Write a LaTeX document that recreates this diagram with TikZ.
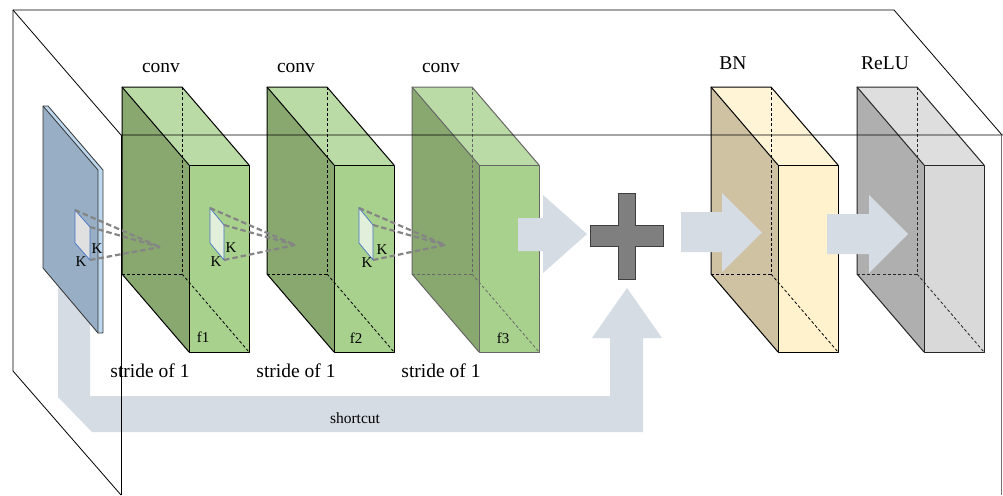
\documentclass[tikz,border=0pt]{standalone}
\usepackage{fontspec}
\setmainfont{Liberation Serif}
\definecolor{gLeft}{HTML}{88A870}
\definecolor{gTop}{HTML}{BBDBA6}
\definecolor{gFront}{HTML}{A9D18E}
\definecolor{bnLeft}{HTML}{CFC2A3}
\definecolor{bnTop}{HTML}{FFF4D6}
\definecolor{bnFront}{HTML}{FFF2CC}
\definecolor{reLeft}{HTML}{AFAFAF}
\definecolor{reTop}{HTML}{DEDEDE}
\definecolor{reFront}{HTML}{D9D9D9}
\definecolor{flow}{HTML}{D6DCE4}
\definecolor{inLeft}{HTML}{97AEC4}
\definecolor{inSide}{HTML}{BDD7EE}
\definecolor{patchBlue}{HTML}{4472C4}
\definecolor{patchGreen}{HTML}{E2EFDA}
\definecolor{plusFill}{HTML}{7F7F7F}
\definecolor{plusEdge}{HTML}{3F3F3F}
\definecolor{kern}{HTML}{858585}
\tikzset{
  boxedge/.style={line width=1pt, line join=round},
  hiddenedge/.style={line width=0.8pt, dash pattern=on 3pt off 2.2pt},
  frameline/.style={line width=0.8pt, draw=black},
  kernline/.style={draw=kern, line width=2.2pt, dash pattern=on 5.5pt off 3pt},
  patch/.style={draw=patchBlue, line width=0.7pt},
  lbl/.style={font=\fontsize{19.5}{23}\selectfont, inner sep=0pt, anchor=base},
  small/.style={font=\fontsize{15}{17}\selectfont, inner sep=0pt},
  flowarrow/.style={fill=flow, draw=none}
}
% one feature-map block: x offset, left face, top face, front face, edge colour
\newcommand{\featbox}[5]{%
  \begin{scope}[shift={(#1,0)}]
    \fill[#2] (0,87) -- (67,165) -- (67,352) -- (0,274) -- cycle;
    \fill[#3] (0,87) -- (60,87) -- (127,165) -- (67,165) -- cycle;
    \fill[#4] (67,165) rectangle (127,352);
    \draw[hiddenedge,draw=#5] (60,87) -- (60,274) -- (0,274);
    \draw[hiddenedge,draw=#5] (60,274) -- (127,352);
    \draw[boxedge,draw=#5] (0,274) -- (0,87) -- (60,87) -- (127,165);
    \draw[boxedge,draw=#5] (0,87) -- (67,165);
    \draw[boxedge,draw=#5] (67,165) rectangle (127,352);
    \draw[boxedge,draw=#5] (0,274) -- (67,352);
  \end{scope}}
\begin{document}
\begin{tikzpicture}[x=1pt,y=-1pt]
\useasboundingbox (0,0) rectangle (1003,495);
\fill[white] (0,0) rectangle (1003,495);

% shortcut path (behind the input slab)
\fill[flowarrow] (58,270) -- (58,397) -- (92,432) -- (643,432) -- (643,338)
  -- (662,338) -- (627,288) -- (592,338) -- (610,338) -- (610,396)
  -- (90,396) -- (90,270) -- cycle;
\node[font=\fontsize{15.5}{18}\selectfont, inner sep=0pt, anchor=base] (sc) at (355,423) {shortcut};

% input slab
\fill[inLeft] (43,106) -- (98,170) -- (98,333) -- (43,268) -- cycle;
\fill[inSide] (43,106) -- (48,106) -- (103,170) -- (98,170) -- cycle;
\fill[inSide] (98,170) rectangle (103,333);
\draw[line width=0.8pt, draw=black!80, line join=round]
  (43,268) -- (43,106) -- (48,106) -- (103,170) -- (103,333) -- (98,333) -- (43,268);
\draw[line width=0.8pt, draw=black!80] (43,106) -- (98,170) -- (98,333);

% convolution blocks
\featbox{122}{gLeft}{gTop}{gFront}{black}
\featbox{267}{gLeft}{gTop}{gFront}{black}
\featbox{412}{gLeft}{gTop}{gFront}{black!60}
% batch norm and activation blocks
\featbox{711}{bnLeft}{bnTop}{bnFront}{black}
\featbox{857}{reLeft}{reTop}{reFront}{black!85}

% kernel windows and receptive-field rays
\coordinate (apex1) at (160,247);
\coordinate (apex2) at (295,245);
\coordinate (apex3) at (445,245);
\fill[black!12] (75,210) -- (90,227) -- (90,260) -- (75,243) -- cycle;
\draw[patch] (75,210) -- (90,227) -- (90,260) -- (75,243) -- cycle;
\draw[kernline] (75,210) -- (apex1);
\draw[kernline] (90,227) -- (apex1);
\draw[kernline] (90,260) -- (apex1);
\fill[patchGreen] (210,208) -- (224,225) -- (224,260) -- (210,243) -- cycle;
\draw[patch] (210,208) -- (224,225) -- (224,260) -- (210,243) -- cycle;
\draw[kernline] (210,208) -- (apex2);
\draw[kernline] (224,225) -- (apex2);
\draw[kernline] (224,260) -- (apex2);
\fill[patchGreen] (359,208) -- (373,225) -- (373,260) -- (359,243) -- cycle;
\draw[patch] (359,208) -- (373,225) -- (373,260) -- (359,243) -- cycle;
\draw[kernline] (359,208) -- (apex3);
\draw[kernline] (373,225) -- (apex3);
\draw[kernline] (373,260) -- (apex3);
\node[small] (k1a) at (97,249) {K};
\node[small] (k1b) at (81,262) {K};
\node[small] (k2a) at (231,248) {K};
\node[small] (k2b) at (216,262) {K};
\node[small] (k3a) at (382,250) {K};
\node[small] (k3b) at (367,263) {K};

% block arrows
\fill[flowarrow] (518,218) -- (543,218) -- (543,195) -- (587,234) -- (543,273)
  -- (543,251) -- (518,251) -- cycle;
\fill[flowarrow] (681,212) -- (722,212) -- (722,193) -- (762,232.5) -- (722,272)
  -- (722,252) -- (681,252) -- cycle;
\fill[flowarrow] (827,214) -- (869,214) -- (869,195) -- (908,234) -- (869,273)
  -- (869,254) -- (827,254) -- cycle;

% addition
\draw[fill=plusFill, draw=plusEdge, line width=1pt]
  (618,193) -- (635,193) -- (635,225) -- (663,225) -- (663,246) -- (635,246)
  -- (635,279) -- (618,279) -- (618,246) -- (590,246) -- (590,225) -- (618,225) -- cycle;

% labels
\node[lbl] (c1) at (161,73) {conv};
\node[lbl] (c2) at (296,73) {conv};
\node[lbl] (c3) at (441,73) {conv};
\node[lbl] (bn) at (733,70) {BN};
\node[lbl] (relu) at (885,70) {ReLU};
\node[lbl] (s1) at (150,377) {stride of 1};
\node[lbl] (s2) at (296,377) {stride of 1};
\node[lbl] (s3) at (441,377) {stride of 1};
\node[small, anchor=base] (f1) at (203,342) {f1};
\node[small, anchor=base] (f2) at (356,343) {f2};
\node[small, anchor=base] (f3) at (503,343) {f3};

% enclosing frame
\draw[frameline] (13,10) -- (894,10) -- (1002,135);
\draw[frameline] (13,10) -- (13,371) -- (121,495);
\draw[frameline] (13,10) -- (121,135) -- (1003,135);
\draw[frameline] (121,135) -- (121,495);
\draw[line width=0.8pt, draw=black!55] (1001,135) -- (1001,495);
\end{tikzpicture}
\end{document}
